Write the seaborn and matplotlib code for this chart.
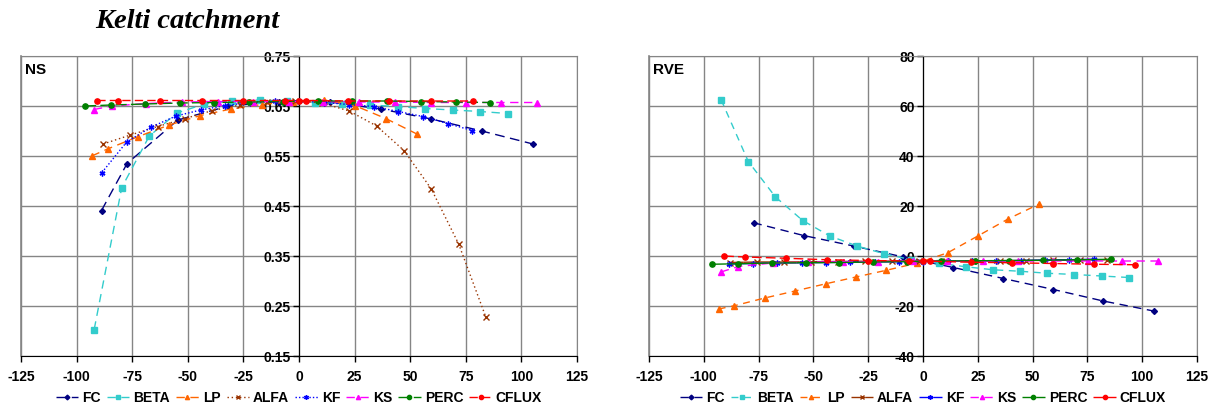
import numpy as np
import pandas as pd
import matplotlib
matplotlib.use("Agg")
import matplotlib.pyplot as plt
import seaborn as sns

# %% Data (x = parameter change in %, NS / RVE values)
fc_x = [-88.8, -77.3, -54.5, -31.7, -8.9, 13.9, 36.7, 59.5, 82.2, 105.2]
fc_ns = [0.441, 0.535, 0.622, 0.650, 0.659, 0.658, 0.644, 0.624, 0.600, 0.574]
fc_rve = [np.nan, 13.3, 8.2, 4.0, -0.4, -4.6, -9.0, -13.4, -18.0, -22.0]

beta_x = [-92.1, -79.7, -67.3, -54.9, -42.5, -30.1, -17.7, -5.3, 7.1, 19.5,
          31.9, 44.3, 56.7, 69.1, 81.5, 93.9]
beta_ns = [0.203, 0.487, 0.590, 0.636, 0.654, 0.660, 0.662, 0.660, 0.657, 0.655,
           0.652, 0.649, 0.645, 0.642, 0.639, 0.635]
beta_rve = [62.5, 37.8, 23.6, 14.2, 8.0, 4.0, 0.9, -1.5, -2.9, -4.3,
            -5.5, -6.1, -6.9, -7.4, -8.0, -8.6]

lp_x = [-93.2, -86.1, -72.2, -58.4, -44.3, -30.6, -16.7, -2.9, 11.3, 25.0, 39.0, 53.0]
lp_ns = [0.550, 0.564, 0.589, 0.612, 0.631, 0.644, 0.653, 0.659, 0.662, 0.651, 0.625, 0.594]
lp_rve = [-21.2, -19.9, -16.8, -14.0, -11.1, -8.4, -5.7, -2.9, 1.3, 8.0, 14.9, 20.8]

alfa_x = [-88.1, -75.8, -63.5, -51.2, -38.9, -26.6, -14.3, -2.0, 10.3, 22.6,
          34.9, 47.2, 59.5, 71.8, 84.0]
alfa_ns = [0.574, 0.592, 0.609, 0.625, 0.641, 0.652, 0.659, 0.661, 0.656, 0.640,
           0.610, 0.561, 0.484, 0.374, 0.228]
alfa_rve = [-2.6, -2.4, -2.4, -2.3, -2.2, -2.1, -2.0, -2.0, -2.0, -1.9,
            -1.9, -1.8, -1.7, -1.6, -1.5]

kf_x = [-88.6, -77.5, -66.4, -55.3, -44.2, -33.1, -22.0, -10.9, 0.2, 11.3,
        22.4, 33.5, 44.6, 55.7, 66.8, 77.9]
kf_ns = [0.517, 0.578, 0.608, 0.630, 0.642, 0.651, 0.657, 0.660, 0.660, 0.657,
         0.653, 0.649, 0.639, 0.629, 0.615, 0.601]
kf_rve = [-3.2, -3.0, -2.8, -2.7, -2.6, -2.5, -2.4, -2.3, -2.2, -2.1,
          -2.0, -1.9, -1.8, -1.6, -1.5, -1.3]

ks_x = [-92.2, -84.2, -68.6, -52.6, -36.6, -20.6, -4.6, 11.0, 27.2, 43.3,
        59.2, 75.2, 91.0, 107.1]
ks_ns = [0.643, 0.650, 0.655, 0.658, 0.659, 0.659, 0.659, 0.659, 0.658, 0.658,
         0.657, 0.657, 0.657, 0.657]
ks_rve = [-6.4, -4.2, -2.8, -2.5, -2.3, -2.2, -2.1, -2.0, -2.0, -2.0,
          -2.0, -2.0, -2.0, -2.0]

perc_x = [-96.2, -84.5, -69.1, -53.6, -38.1, -22.6, -7.1, 8.4, 23.9, 39.4, 54.9, 70.4, 85.8]
perc_ns = [0.650, 0.652, 0.654, 0.656, 0.657, 0.658, 0.659, 0.660, 0.660, 0.660, 0.659, 0.658, 0.657]
perc_rve = [-3.3, -3.1, -2.8, -2.7, -2.6, -2.4, -2.2, -2.0, -1.9, -1.8, -1.7, -1.5, -1.3]

cflux_x = [-90.7, -81.2, -62.5, -43.8, -25.0, -6.3, 0.0, 3.1, 22.0, 40.6, 59.4, 78.2, 96.9]
cflux_ns = [0.661, 0.661, 0.661, 0.661, 0.661, 0.661, 0.661, 0.661, 0.660, 0.660, 0.660, 0.660, np.nan]
cflux_rve = [0.0, -0.4, -0.9, -1.5, -1.8, -2.0, -2.0, -2.1, -2.5, -2.7, -3.0, -3.3, -3.5]

params = ["FC", "BETA", "LP", "ALFA", "KF", "KS", "PERC", "CFLUX"]
x_values = [fc_x, beta_x, lp_x, alfa_x, kf_x, ks_x, perc_x, cflux_x]
ns_values = [fc_ns, beta_ns, lp_ns, alfa_ns, kf_ns, ks_ns, perc_ns, cflux_ns]
rve_values = [fc_rve, beta_rve, lp_rve, alfa_rve, kf_rve, ks_rve, perc_rve, cflux_rve]

x_ticks = [-125, -100, -75, -50, -25, 0, 25, 50, 75, 100, 125]
ns_ticks = [0.15, 0.25, 0.35, 0.45, 0.55, 0.65, 0.75]
rve_ticks = [-40, -20, 0, 20, 40, 60, 80]

# %% Build long table
rows = []
for name, xs, ns, rve in zip(params, x_values, ns_values, rve_values):
    for xv, nv, rv in zip(xs, ns, rve):
        rows.append({"param": name, "change": xv, "NS": nv, "RVE": rv})
df = pd.DataFrame(rows)

# %% Styles
colors = {"FC": "#000080", "BETA": "#33CCCC", "LP": "#FF6600", "ALFA": "#993300",
          "KF": "#0000FF", "KS": "#FF00FF", "PERC": "#008000", "CFLUX": "#FF0000"}
markers = {"FC": "D", "BETA": "s", "LP": "^", "ALFA": "x",
           "KF": (6, 2, 0), "KS": "^", "PERC": "o", "CFLUX": "o"}
marker_sizes = {"FC": 3.0, "BETA": 3.8, "LP": 3.8, "ALFA": 3.8,
                "KF": 4.2, "KS": 3.8, "PERC": 3.8, "CFLUX": 3.8}
ns_dashes = {"FC": (7, 4), "BETA": (6, 4), "LP": (6, 4), "ALFA": (1, 2),
             "KF": (1, 1.5), "KS": (6, 4), "PERC": (8, 3), "CFLUX": (6, 3)}
rve_dashes = {"FC": (6, 4), "BETA": (5, 4), "LP": (5, 4), "ALFA": (10, 0.1),
              "KF": (10, 0.1), "KS": (6, 4), "PERC": (10, 0.1), "CFLUX": (7, 3)}

plt.rcParams["font.family"] = ["Liberation Sans", "DejaVu Sans"]
plt.rcParams["font.weight"] = "bold"
plt.rcParams["axes.unicode_minus"] = False

fig = plt.figure(figsize=(12.21, 4.09), dpi=100)
W, H = 1221, 409
ax_ns = fig.add_axes([21 / W, 1 - 356 / H, 556 / W, 300 / H])
ax_rve = fig.add_axes([649 / W, 1 - 356 / H, 548 / W, 300 / H])

grid_color = "#858585"


def draw_panel(ax, col, dashes, yticks, label):
    for name in params:
        sub = df[df["param"] == name].dropna(subset=[col])
        sns.lineplot(data=sub, x="change", y=col, ax=ax, color=colors[name],
                     linewidth=1.0, dashes=False, linestyle=(0, dashes[name]),
                     marker=markers[name], markersize=marker_sizes[name],
                     markeredgecolor=colors[name], markerfacecolor=colors[name],
                     markeredgewidth=1.0, label=name, zorder=3)
    ax.set_xlim(-125, 125)
    ax.set_ylim(yticks[0], yticks[-1])
    ax.set_xticks(x_ticks)
    ax.set_yticks(yticks)
    ax.set_xlabel("")
    ax.set_ylabel("")
    ax.grid(True, color=grid_color, linewidth=1.0)
    ax.set_axisbelow(True)
    ax.spines["left"].set_position(("data", 0))
    ax.spines["left"].set_color("black")
    ax.spines["bottom"].set_color("black")
    for side in ["top", "right"]:
        ax.spines[side].set_color(grid_color)
    ax.axvline(-125, color=grid_color, linewidth=1.2, clip_on=False, zorder=1)
    ax.tick_params(axis="both", direction="out", length=4, width=1,
                   labelsize=10, color="black")
    ax.tick_params(axis="y", pad=2)
    ax.tick_params(axis="x", pad=6)
    for t in ax.get_xticklabels() + ax.get_yticklabels():
        t.set_fontweight("bold")
    ax.text(0.008, 0.955, label, transform=ax.transAxes, fontsize=11,
            fontweight="bold", va="center", ha="left")
    ax.legend(loc="center", bbox_to_anchor=(0.5, -0.14), ncol=8, frameon=False,
              handlelength=1.6, handletextpad=0.3, columnspacing=0.45,
              borderaxespad=0, markerscale=0.8, prop={"weight": "bold", "size": 10})


draw_panel(ax_ns, "NS", ns_dashes, ns_ticks, "NS")
draw_panel(ax_rve, "RVE", rve_dashes, rve_ticks, "RVE")
ax_ns.yaxis.set_major_formatter(matplotlib.ticker.FormatStrFormatter("%.2f"))

fig.text(95 / W, 1 - 21 / H, "Kelti catchment", fontsize=20.5, fontweight="bold",
         fontstyle="italic", family="Liberation Serif", va="center", ha="left")

fig.savefig("out.png", dpi=100)
